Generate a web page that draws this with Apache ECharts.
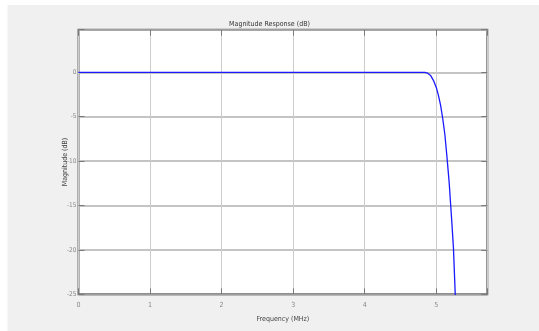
<!DOCTYPE html>
<html>
<head>
<meta charset="utf-8">
<script src="https://cdn.jsdelivr.net/npm/echarts@6/dist/echarts.min.js"></script>
<style>
html,body{margin:0;padding:0;background:#ffffff;}
#chart{width:539px;height:331px;}
</style>
</head>
<body>
<div id="chart"></div>
<script>
// Data
const freqMHz = [0, 1, 2, 3, 4, 4.5, 4.8, 4.84, 4.88, 4.92, 4.96, 5.0, 5.03, 5.06, 5.09, 5.12, 5.15, 5.18, 5.2, 5.22, 5.24, 5.265, 5.28];
const magnitudeDb = [0, 0, 0, 0, 0, 0, 0, 0, -0.1, -0.35, -0.9, -1.7, -2.6, -3.7, -5.2, -7.0, -9.6, -12.4, -14.8, -17.2, -19.8, -25, -27];
const xTicks = [0, 1, 2, 3, 4, 5];
const yTicks = [-25, -20, -15, -10, -5, 0];
const titleText = 'Magnitude Response (dB)';
const xName = 'Frequency (MHz)';
const yName = 'Magnitude (dB)';

const xMax = 5.713, yMax = 4.8;
const chart = echarts.init(document.getElementById('chart'), null, {renderer: 'canvas'});
const lineData = freqMHz.map((f, i) => [f, magnitudeDb[i]]);
const fontFam = '"Liberation Sans Narrow", "DejaVu Sans Condensed", "Liberation Sans", Arial, sans-serif';
const tickStyle = {show: true, inside: true, length: 6, lineStyle: {color: '#7a7a7a', width: 1}};
const noLine = {show: false, onZero: false};

chart.setOption({
  backgroundColor: '#ffffff',
  animation: false,
  graphic: [{
    type: 'rect', z: -10, silent: true,
    shape: {x: 7.5, y: 5, width: 540, height: 330},
    style: {fill: '#f0f0f0'}
  }],
  title: {
    text: titleText, left: 'center', top: 16,
    textStyle: {fontSize: 7, fontWeight: 'normal', color: '#333', fontFamily: fontFam}
  },
  grid: {
    left: 78.5, right: 51.7, top: 29.7, bottom: 36.7,
    show: true, backgroundColor: '#ffffff', borderColor: '#6a6a6a', borderWidth: 2
  },
  xAxis: [{
    type: 'value', min: 0, max: xMax, interval: 1, position: 'bottom',
    name: xName, nameLocation: 'middle', nameGap: 21, nameMoveOverlap: false,
    nameTextStyle: {fontSize: 7, color: '#444', fontFamily: fontFam},
    axisLine: noLine,
    axisTick: tickStyle,
    axisLabel: {fontSize: 7, color: '#888', margin: 7, fontFamily: fontFam,
      formatter: v => xTicks.includes(v) ? String(v) : ''},
    splitLine: {show: true, lineStyle: {color: '#cccccc', width: 1}}
  }, {
    type: 'value', min: 0, max: xMax, interval: 1, position: 'top',
    axisLine: noLine, axisTick: tickStyle, axisLabel: {show: false}, splitLine: {show: false}
  }],
  yAxis: [{
    type: 'value', min: -25, max: yMax, interval: 5, position: 'left',
    name: yName, nameLocation: 'middle', nameGap: 10, nameMoveOverlap: false,
    nameTextStyle: {fontSize: 7, color: '#444', fontFamily: fontFam},
    axisLine: noLine,
    axisTick: tickStyle,
    axisLabel: {fontSize: 6.5, color: '#888', margin: 2, fontFamily: fontFam,
      formatter: v => yTicks.includes(v) ? String(v) : ''},
    splitLine: {show: true, lineStyle: {color: '#b0b0b0', width: 1.5}}
  }, {
    type: 'value', min: -25, max: yMax, interval: 5, position: 'right',
    axisLine: noLine, axisTick: tickStyle, axisLabel: {show: false}, splitLine: {show: false}
  }],
  series: [{
    type: 'line', xAxisIndex: 0, yAxisIndex: 0,
    data: lineData, showSymbol: false, symbol: 'none', clip: true,
    lineStyle: {color: '#1a1aff', width: 1.3}
  }]
});
</script>
</body>
</html>
